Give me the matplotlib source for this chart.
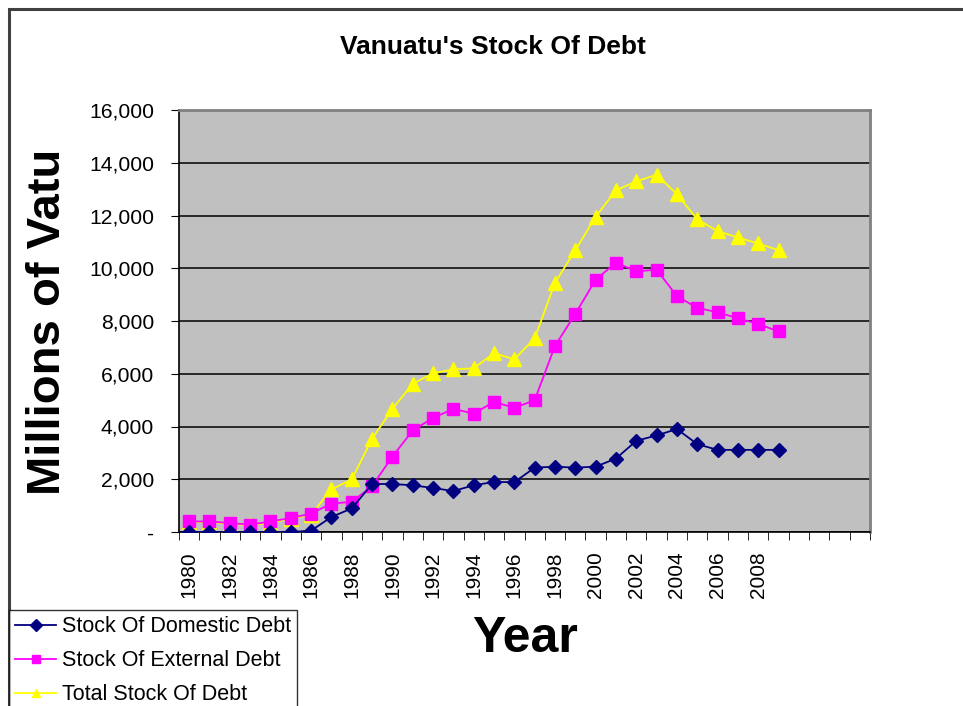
import matplotlib
matplotlib.use("Agg")
import matplotlib.pyplot as plt
from matplotlib.patches import Rectangle
from matplotlib.ticker import FixedLocator, FuncFormatter

years = [1980, 1981, 1982, 1983, 1984, 1985, 1986, 1987, 1988, 1989,
         1990, 1991, 1992, 1993, 1994, 1995, 1996, 1997, 1998, 1999,
         2000, 2001, 2002, 2003, 2004, 2005, 2006, 2007, 2008, 2009]
extra_categories = ["", "", "", ""]  # empty category slots 2010-2013

domestic = [0, 0, 0, 0, 0, 0, 50, 570, 893, 1820,
            1820, 1771, 1668, 1553, 1771, 1897, 1890, 2440, 2477, 2440,
            2477, 2783, 3458, 3661, 3903, 3331, 3114, 3114, 3114, 3114]
external = [400, 400, 340, 278, 400, 530, 698, 1080, 1141, 1740,
            2859, 3851, 4324, 4668, 4489, 4935, 4706, 4996, 7057, 8267,
            9565, 10214, 9882, 9947, 8943, 8496, 8332, 8103, 7885, 7607]
total = [378, 378, 317, 252, 355, 508, 660, 1614, 1996, 3534,
         4668, 5622, 6015, 6168, 6206, 6779, 6550, 7340, 9450, 10683,
         11958, 12950, 13294, 13546, 12809, 11855, 11408, 11168, 10939, 10683]

labels = ["Stock Of Domestic Debt", "Stock Of External Debt", "Total Stock Of Debt"]
y_ticks = [0, 2000, 4000, 6000, 8000, 10000, 12000, 14000, 16000]

plt.rcParams['font.family'] = ['Liberation Sans', 'DejaVu Sans']

W, H = 963, 706
fig = plt.figure(figsize=(W / 100, H / 100), dpi=100)

# outer chart border
fig.patches.append(Rectangle((9 / W, -0.1), 1.2, 1 - 9 / H + 0.1, transform=fig.transFigure,
                             fill=False, edgecolor='#404040', linewidth=2.2, zorder=0))

ax = fig.add_axes([179 / W, 1 - 532 / H, (870 - 179) / W, (532 - 110) / H])
ax.set_facecolor('#C0C0C0')

ncat = len(years) + len(extra_categories)
x = list(range(len(years)))

l1, = ax.plot(x, domestic, color='#000080', marker='D', markersize=7, linewidth=1.3,
              markeredgecolor='#000080', zorder=5)
l2, = ax.plot(x, external, color='#FF00FF', marker='s', markersize=8, linewidth=1.3,
              markeredgecolor='#FF00FF', zorder=4)
l3, = ax.plot(x, total, color='#FFFF00', marker='^', markersize=9.5, linewidth=1.3,
              markeredgecolor='#FFFF00', zorder=3)

ax.set_xlim(-0.5, ncat - 0.5)
ax.set_ylim(0, 16000)
ax.yaxis.set_major_locator(FixedLocator(y_ticks))
ax.yaxis.set_major_formatter(FuncFormatter(lambda v, p: '-' if v == 0 else f'{int(v):,}'))
ax.grid(axis='y', color='black', linewidth=1.1, zorder=1)
ax.set_axisbelow(True)

cat_labels = [str(y) if y % 2 == 0 else '' for y in years] + extra_categories
ax.set_xticks(list(range(ncat)))
ax.set_xticklabels(cat_labels, rotation=90, fontsize=15)
ax.tick_params(axis='x', length=0, pad=14)
ax.set_xticks([i - 0.5 for i in range(ncat + 1)], minor=True)
ax.tick_params(axis='x', which='minor', length=6, direction='out', color='black')
ax.tick_params(axis='y', labelsize=15.2, length=6, direction='out', pad=12)

for s in ['left', 'bottom']:
    ax.spines[s].set_color('black')
    ax.spines[s].set_linewidth(1.2)
for s in ['top', 'right']:
    ax.spines[s].set_color('#808080')
    ax.spines[s].set_linewidth(2)

fig.text(493 / W, 1 - 47 / H, "Vanuatu's Stock Of Debt", ha='center', va='center',
         fontsize=19, fontweight='bold')
fig.text(48 / W, 1 - 322 / H, "Millions of Vatu", ha='center', va='center', rotation=90,
         fontsize=34, fontweight='bold')
fig.text(525 / W, 1 - 639 / H, "Year", ha='center', va='center',
         fontsize=36, fontweight='bold')

leg = fig.legend([l1, l2, l3], labels, loc='upper left',
                 bbox_to_anchor=(9 / W, 1 - 610 / H), bbox_transform=fig.transFigure,
                 frameon=True, fancybox=False, edgecolor='black', fontsize=15.5,
                 handlelength=1.9, handletextpad=0.25, borderpad=0.3, labelspacing=0.6,
                 borderaxespad=0)
leg.get_frame().set_linewidth(1.0)
for h in leg.legend_handles:
    h.set_markersize(6)

fig.savefig('out.png', dpi=100)
